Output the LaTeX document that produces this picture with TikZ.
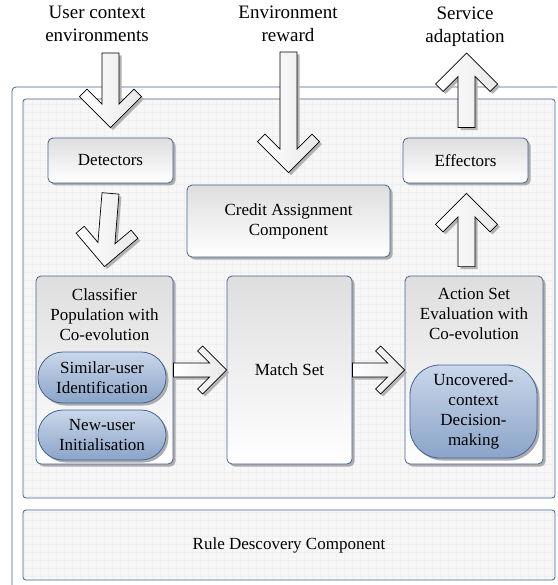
\documentclass[tikz,border=0pt]{standalone}
\usepackage{fontspec}
\setmainfont{Liberation Serif}
\usepackage{xcolor}
\usetikzlibrary{calc, shadows}

\definecolor{boxline}{RGB}{66,99,148}
\definecolor{boxtop}{RGB}{222,222,222}
\definecolor{ovaltop}{RGB}{202,215,234}
\definecolor{ovalbot}{RGB}{138,164,200}
\definecolor{panelfill}{RGB}{247,247,247}
\definecolor{gridline}{RGB}{239,239,239}

\newcommand{\boxfont}{\rmfamily\fontsize{17}{20}\selectfont}
\newcommand{\topfont}{\rmfamily\fontsize{19}{23}\selectfont}

% block arrow: tail, tip, head half-width, cap, shaft half-width
\newcommand{\blockarrow}[5]{%
  \draw[barrow] let \p1=($(#2)-(#1)$), \n1={atan2(\y1,\x1)}, \n2={veclen(\x1,\y1)} in
    [shift={(#2)}, rotate=\n1]
    (-\n2,#5) -- ({-(2*#4+#5)},#5) -- ({-(#3+#4)},{#3-#4}) -- (-#3,#3) -- (0,0)
    -- (-#3,-#3) -- ({-(#3+#4)},{-(#3-#4)}) -- ({-(2*#4+#5)},-#5) -- (-\n2,-#5) -- cycle;}

\tikzset{
  box/.style={draw=boxline, line width=0.8pt, rounded corners=5pt,
    top color=boxtop, bottom color=white, align=center, font=\boxfont,
    drop shadow={shadow xshift=2.5pt, shadow yshift=-2.5pt, fill=gray!65, opacity=1}},
  oval/.style={draw=boxline, line width=0.8pt, rounded corners=25pt,
    top color=ovaltop, bottom color=ovalbot, align=center, font=\boxfont,
    drop shadow={shadow xshift=2.5pt, shadow yshift=-2.5pt, fill=gray!65, opacity=1}},
  boxtext/.style={align=center, font=\boxfont},
  toptext/.style={align=center, font=\topfont},
  barrow/.style={draw=black, line width=0.7pt, left color=white, right color=gray!18,
    drop shadow={shadow xshift=2.5pt, shadow yshift=-2.5pt, fill=gray!60, opacity=1}}
}

\begin{document}
\begin{tikzpicture}[x=1pt, y=-1pt]
\useasboundingbox (0,0) rectangle (557,585);
\clip (0,0) rectangle (557,585);

% Frames
\draw[boxline, line width=0.8pt, rounded corners=4pt, fill=white] (12,87) rectangle (575,600);
\fill[panelfill, rounded corners=3pt] (23,99) rectangle (555,498);
\draw[gridline, step=8pt] (24,100) grid (554,497);
\draw[boxline, line width=0.8pt, rounded corners=3pt] (23,99) rectangle (555,498);
\fill[panelfill, rounded corners=3pt] (23,510) rectangle (555,580);
\draw[gridline, step=8pt] (24,511) grid (554,579);
\draw[boxline, line width=0.8pt, rounded corners=3pt] (23,510) rectangle (555,580);

% Outside texts
\node[toptext] (usertxt) at (97,24) {User context\\environments};
\node[toptext] (rewardtxt) at (288,24) {Environment\\reward};
\node[toptext] (servicetxt) at (465,27) {Service\\adaptation};

% Components
\node[box, minimum width=125, minimum height=45] (detectors) at (110.5,160.5) {Detectors};
\node[box, minimum width=125, minimum height=45] (effectors) at (465.5,160.5) {Effectors};
\node[box, minimum width=203, minimum height=72] (credit) at (288.5,221) {Credit Assignment\\Component};
\node[box, minimum width=137, minimum height=188,
  label={[boxtext, anchor=north, yshift=-9pt]north:{Classifier\\Population with\\Co-evolution}}]
  (classifier) at (104.5,370) {};
\node[box, minimum width=125, minimum height=188] (matchset) at (289.5,370) {Match Set};
\node[box, minimum width=138, minimum height=188,
  label={[boxtext, anchor=north, yshift=-9pt]north:{Action Set\\Evaluation with\\Co-evolution}}]
  (actionset) at (474,370) {};
\node[oval, minimum width=128, minimum height=51] (similar) at (102,377.5) {Similar-user\\Identification};
\node[oval, minimum width=128, minimum height=50] (newuser) at (102,435) {New-user\\Initialisation};
\node[oval, rounded corners=30pt, minimum width=127, minimum height=93] (uncovered) at (473.5,411.5)
  {Uncovered-\\context\\Decision-\\making};
\node[boxtext] (rule) at (289,545) {Rule Descovery Component};

% Arrow ends
\coordinate (usertip) at ($(detectors.north)+(0,-10)$);
\coordinate (usertail) at (usertip |- 0,53);
\coordinate (dettail) at ($(detectors.south)+(0,10)$);
\coordinate (dettip) at ($(classifier.north)+(0,-9)$);
\coordinate (credittip) at ($(credit.north)+(0,-12)$);
\coordinate (credittail) at (credittip |- 0,52);
\coordinate (efftail) at ($(actionset.north -| effectors.south)+(1,-9)$);
\coordinate (efftip) at ($(effectors.south)+(1,10)$);
\coordinate (servtail) at ($(effectors.north)+(1,-10)$);
\coordinate (servtip) at (servtail |- 0,53);

% Block arrows
\blockarrow{usertail}{usertip}{31}{7.5}{8.5}
\blockarrow{dettail}{dettip}{31}{7.5}{8.5}
\blockarrow{credittail}{credittip}{31}{7.5}{8.5}
\blockarrow{efftail}{efftip}{31}{7.5}{8.5}
\blockarrow{servtail}{servtip}{31}{7.5}{8.5}
\blockarrow{classifier.east}{matchset.west}{24}{5}{7}
\blockarrow{matchset.east}{actionset.west}{24}{5}{7}

\end{tikzpicture}
\end{document}
